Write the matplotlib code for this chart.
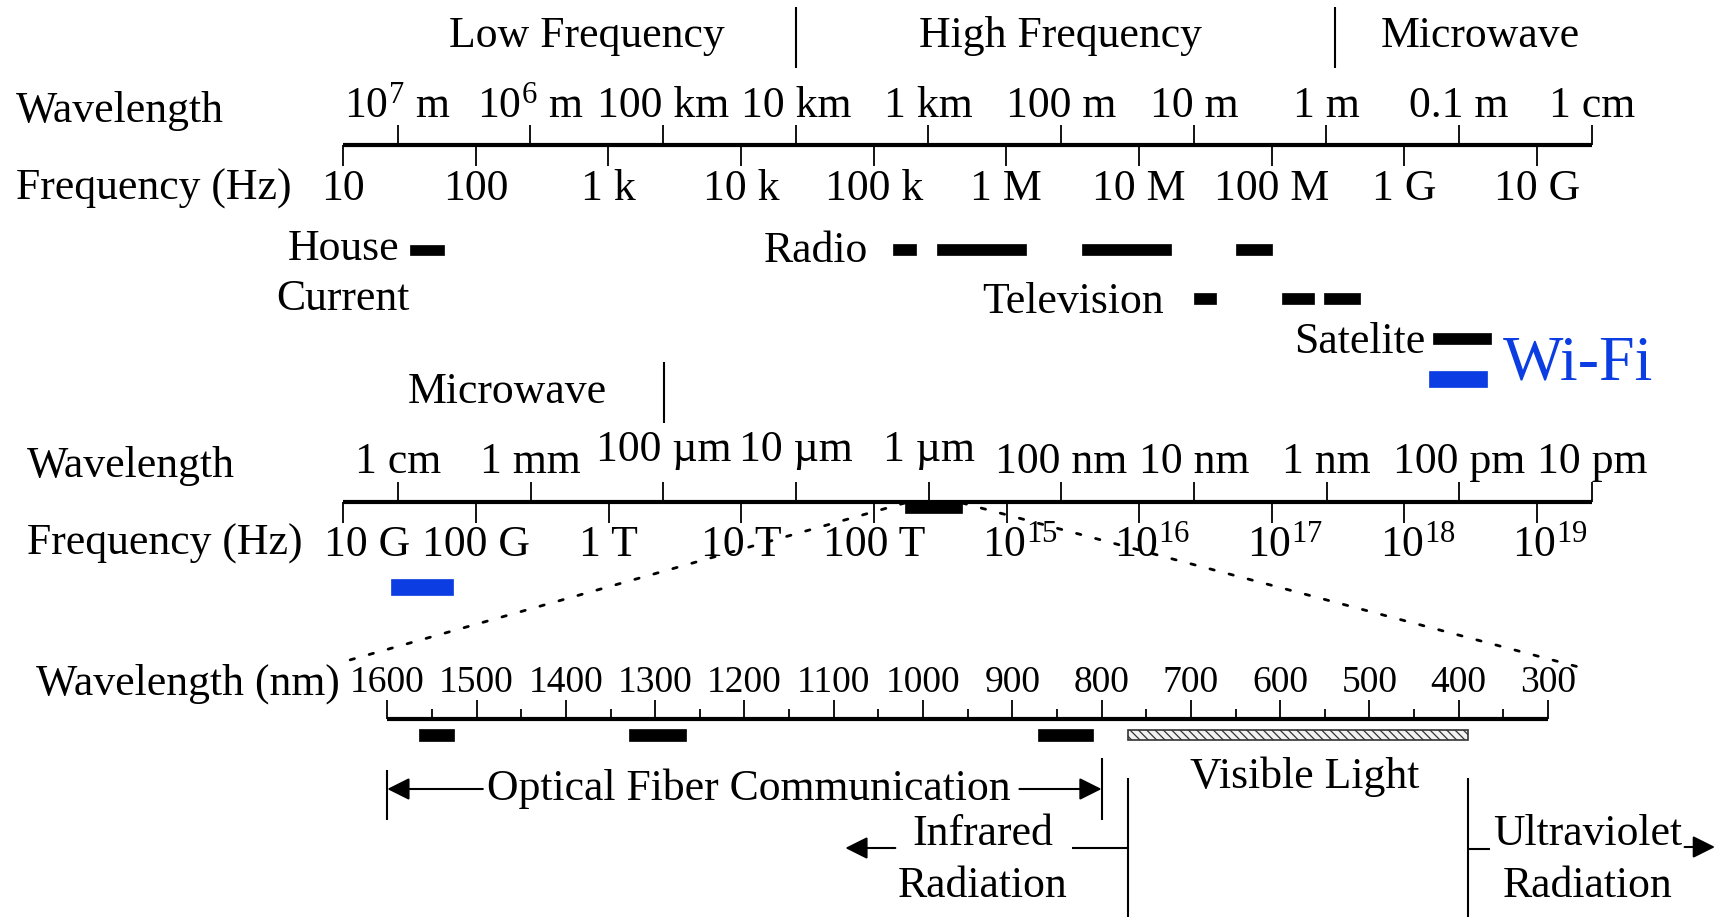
import matplotlib
matplotlib.use('Agg')
import matplotlib.pyplot as plt
import matplotlib.transforms as mtransforms
from matplotlib.patches import ConnectionPatch

plt.rcParams['font.family'] = ['Liberation Serif', 'DejaVu Serif']
plt.rcParams['mathtext.fontset'] = 'custom'
plt.rcParams['mathtext.rm'] = 'Liberation Serif'
plt.rcParams['mathtext.it'] = 'Liberation Serif:italic'
plt.rcParams['mathtext.bf'] = 'Liberation Serif:bold'
plt.rcParams['hatch.linewidth'] = 0.9
plt.rcParams['hatch.color'] = '#333333'

# ------------------------------------------------------------------ data
top_freq_ticks = [1e1, 1e2, 1e3, 1e4, 1e5, 1e6, 1e7, 1e8, 1e9, 1e10]
top_freq_labels = ['10', '100', '1 k', '10 k', '100 k', '1 M', '10 M', '100 M', '1 G', '10 G']
top_wl_ticks = [1e7, 1e6, 1e5, 1e4, 1e3, 1e2, 1e1, 1e0, 1e-1, 1e-2]
top_wl_labels = [r'$\mathrm{10}^{\mathrm{7}}$ m', r'$\mathrm{10}^{\mathrm{6}}$ m', '100 km', '10 km',
                 '1 km', '100 m', '10 m', '1 m', '0.1 m', '1 cm']
top_band_names = ['Low Frequency', 'High Frequency', 'Microwave']
top_band_edges = [2.6e4, 3.0e8]

house_bars = [(32, 58)]
radio_bars = [(1.4e5, 2.1e5), (3.0e5, 1.4e6), (3.7e6, 1.75e7), (5.4e7, 1.0e8)]
tv_bars = [(2.6e7, 3.8e7), (1.2e8, 2.1e8), (2.5e8, 4.6e8)]
satellite_bars = [(1.65e9, 4.5e9)]
wifi_bars_top = [(1.53e9, 4.2e9)]

mid_freq_ticks = [1e10, 1e11, 1e12, 1e13, 1e14, 1e15, 1e16, 1e17, 1e18, 1e19]
mid_freq_labels = ['10 G', '100 G', '1 T', '10 T', '100 T',
                   r'$\mathrm{10}^{\mathrm{15}}$', r'$\mathrm{10}^{\mathrm{16}}$',
                   r'$\mathrm{10}^{\mathrm{17}}$', r'$\mathrm{10}^{\mathrm{18}}$',
                   r'$\mathrm{10}^{\mathrm{19}}$']
mid_wl_ticks = [1e-2, 1e-3, 1e-4, 1e-5, 1e-6, 1e-7, 1e-8, 1e-9, 1e-10, 1e-11]
mid_wl_labels = ['1 cm', '1 mm', '100 µm', '10 µm', '1 µm', '100 nm', '10 nm', '1 nm', '100 pm', '10 pm']
mid_band_name = 'Microwave'
mid_band_edges = [2.6e12]
optical_bars = [(1.71e14, 4.63e14)]
wifi_bars_mid = [(2.29e10, 6.7e10)]

nm_major = [1600, 1500, 1400, 1300, 1200, 1100, 1000, 900, 800, 700, 600, 500, 400, 300]
nm_minor = [1550, 1450, 1350, 1250, 1150, 1050, 950, 850, 750, 650, 550, 450, 350]
fiber_bars = [(1525, 1565), (1266, 1329), (810, 871)]
visible_band = (390, 770)
fiber_span = (1600, 800)
zoom_ends_nm = (1650, 253)

# ------------------------------------------------------------------ layout
W, H = 1717, 917
BLUE = '#0b3de3'
FS = 31.5
FS_SMALL = 27
fig = plt.figure(figsize=(W / 100, H / 100), dpi=100)
fig.patch.set_facecolor('white')

base = fig.add_axes([0, 0, 1, 1])
base.set_xlim(0, W)
base.set_ylim(H, 0)
base.axis('off')


def strip_axes(x0, x1, scale, lim):
    ax = fig.add_axes([x0 / W, 0, (x1 - x0) / W, 1])
    ax.set_xscale(scale)
    ax.set_xlim(*lim)
    ax.set_ylim(H, 0)
    ax.axis('off')
    ax.patch.set_alpha(0)
    return ax


ax_tf = strip_axes(343, 1591.8, 'log', (1e1, 10 ** 10.413))
ax_tw = strip_axes(343, 1591.8, 'log', (10 ** 7.413, 1e-2))
ax_mf = strip_axes(343.4, 1591.8, 'log', (1e10, 10 ** 19.413))
ax_mw = strip_axes(343.4, 1591.8, 'log', (10 ** -1.587, 1e-11))
ax_b = strip_axes(387.3, 1548, 'linear', (1600, 300))


def bars(ax, spans, yc, h, color='black', **kw):
    for a, b in spans:
        ax.barh(yc, b - a, left=a, height=h, color=color, edgecolor=color,
                linewidth=0.5, clip_on=False, **kw)


def scale(ax_f, ax_w, y, fticks, wticks):
    lo, hi = ax_f.get_xlim()
    ax_f.hlines(y, lo, hi, color='black', lw=3.0, clip_on=False)
    ax_f.vlines(fticks, y, y + 21, color='black', lw=1.3, clip_on=False)
    ax_w.vlines(wticks, y - 20, y, color='black', lw=1.3, clip_on=False)


# ------------------------------------------------------------- top scale
for x, name in zip([587, 1060, 1480], top_band_names):
    base.text(x, 47, name, fontsize=FS, ha='center', va='baseline')
ax_tf.vlines(top_band_edges, 7, 68, color='black', lw=1.5, clip_on=False)

base.text(16, 122, 'Wavelength', fontsize=FS, ha='left', va='baseline')
base.text(16, 200, 'Frequency (Hz)', fontsize=FS, ha='left', va='baseline')
scale(ax_tf, ax_tw, 145, top_freq_ticks, top_wl_ticks)
for t, lab in zip(top_wl_ticks, top_wl_labels):
    ax_tw.text(t, 117, lab, fontsize=FS, ha='center', va='baseline')
for t, lab in zip(top_freq_ticks, top_freq_labels):
    ax_tf.text(t, 200, lab, fontsize=FS, ha='center', va='baseline')

base.text(344, 260, 'House', fontsize=FS, ha='center', va='baseline')
base.text(343, 310, 'Current', fontsize=FS, ha='center', va='baseline')
bars(ax_tf, house_bars, 250, 10)
base.text(868, 262, 'Radio', fontsize=FS, ha='right', va='baseline')
bars(ax_tf, radio_bars, 249.5, 11)
base.text(1164, 313, 'Television', fontsize=FS, ha='right', va='baseline')
bars(ax_tf, tv_bars, 298.5, 11)
base.text(1425, 353, 'Satelite', fontsize=FS, ha='right', va='baseline')
bars(ax_tf, satellite_bars, 338.5, 11.5)
bars(ax_tf, wifi_bars_top, 379, 16, color=BLUE)
base.text(1503, 379, 'Wi-Fi', fontsize=46, color=BLUE, ha='left', va='baseline')

# ---------------------------------------------------------- middle scale
base.text(507, 403, mid_band_name, fontsize=FS, ha='center', va='baseline')
ax_mf.vlines(mid_band_edges, 362, 423, color='black', lw=1.5, clip_on=False)
base.text(27, 477, 'Wavelength', fontsize=FS, ha='left', va='baseline')
base.text(27, 555, 'Frequency (Hz)', fontsize=FS, ha='left', va='baseline')
scale(ax_mf, ax_mw, 501.7, mid_freq_ticks, mid_wl_ticks)
for t, lab in zip(mid_wl_ticks, mid_wl_labels):
    yb = 461 if 'µ' in lab else 473
    ax_mw.text(t, yb, lab, fontsize=FS, ha='center', va='baseline')
for i, (t, lab) in enumerate(zip(mid_freq_ticks, mid_freq_labels)):
    dx = 24 if i == 0 else (13 if lab.startswith('$') else 0)
    tr = mtransforms.offset_copy(ax_mf.transData, fig=fig, x=dx, y=0, units='dots')
    ax_mf.text(t, 556, lab, fontsize=FS, ha='center', va='baseline', transform=tr)
bars(ax_mf, optical_bars, 508, 10)
bars(ax_mf, wifi_bars_mid, 587, 16, color=BLUE)

# dotted zoom lines
for fa, nb, yb in [(optical_bars[0][0], zoom_ends_nm[0], 662), (optical_bars[0][1], zoom_ends_nm[1], 670)]:
    cp = ConnectionPatch(xyA=(fa, 503), coordsA=ax_mf.transData,
                         xyB=(nb, yb), coordsB=ax_b.transData,
                         color='black', lw=2.0, linestyle=(0, (1.6, 5.5)), zorder=5)
    fig.add_artist(cp)

# ---------------------------------------------------------- bottom scale
base.text(36, 695, 'Wavelength (nm)', fontsize=FS, ha='left', va='baseline')
ax_b.hlines(719.3, 1600, 300, color='black', lw=3.0, clip_on=False)
ax_b.vlines(nm_major, 700, 719, color='black', lw=1.3, clip_on=False)
ax_b.vlines(nm_minor, 709, 719, color='black', lw=1.3, clip_on=False)
for t in nm_major:
    ax_b.text(t, 692, str(t), fontsize=FS_SMALL, ha='center', va='baseline')
bars(ax_b, fiber_bars, 735, 12)
ax_b.barh(735, visible_band[1] - visible_band[0], left=visible_band[0], height=10.5,
          facecolor='#f2f2f2', edgecolor='#333333', linewidth=1.2, hatch='\\\\\\\\',
          clip_on=False)

# optical fibre span
ax_b.vlines(fiber_span[0], 770, 820, color='black', lw=1.5, clip_on=False)
ax_b.vlines(fiber_span[1], 758, 820, color='black', lw=1.5, clip_on=False)
arrow = dict(arrowstyle='-|>', lw=1.5, color='black', mutation_scale=34,
             shrinkA=0, shrinkB=0)
ax_b.annotate('', xy=(fiber_span[0], 789), xytext=(1493, 789),
              arrowprops=arrow, annotation_clip=False)
ax_b.annotate('', xy=(fiber_span[1], 789), xytext=(892, 789),
              arrowprops=arrow, annotation_clip=False)
base.text(487, 800, 'Optical Fiber Communication', fontsize=FS, ha='left', va='baseline')

# visible light
base.text(1305, 788, 'Visible Light', fontsize=FS, ha='center', va='baseline')
ax_b.vlines(list(visible_band), 778, 917, color='black', lw=1.5, clip_on=False)

# infrared
base.text(983, 845, 'Infrared', fontsize=FS, ha='center', va='baseline')
base.text(983, 897, 'Radiation', fontsize=FS, ha='center', va='baseline')
ax_b.hlines(848, 833.5, visible_band[1], color='black', lw=1.5, clip_on=False)
ax_b.annotate('', xy=(1087, 848), xytext=(1031, 848), arrowprops=arrow,
              annotation_clip=False)

# ultraviolet
base.text(1493, 845, 'Ultraviolet', fontsize=FS, ha='left', va='baseline')
base.text(1588, 897, 'Radiation', fontsize=FS, ha='center', va='baseline')
ax_b.hlines(849, visible_band[0], 365, color='black', lw=1.5, clip_on=False)
ax_b.annotate('', xy=(113, 847), xytext=(147, 847), arrowprops=arrow,
              annotation_clip=False)

fig.savefig('out.png', dpi=100, facecolor='white')
